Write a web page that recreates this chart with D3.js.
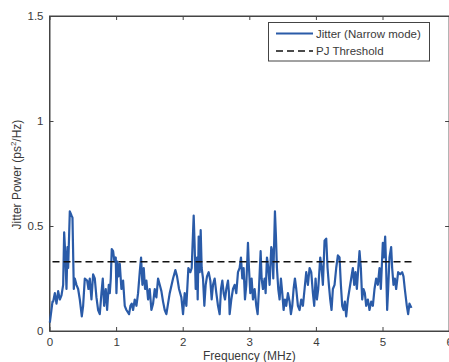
<!DOCTYPE html>
<html>
<head>
<meta charset="utf-8">
<script src="https://cdn.jsdelivr.net/npm/d3@7"></script>
<style>
  body { margin: 0; background: #fff; }
  text { font-family: "Liberation Sans", Arial, sans-serif; fill: #3a3a3a; }
</style>
</head>
<body>
<div id="chart"></div>
<script>
// frequency (MHz) and jitter power (ps^2/Hz)
const freq = [0.005, 0.045, 0.055, 0.08, 0.105, 0.13, 0.155, 0.18, 0.205, 0.22, 0.235, 0.255, 0.27, 0.28, 0.305, 0.33, 0.345, 0.365, 0.38,
  0.405, 0.43, 0.455, 0.485, 0.505, 0.53, 0.565, 0.585, 0.605, 0.63, 0.655, 0.68, 0.705, 0.73, 0.755, 0.78, 0.80, 0.82, 0.845, 0.865,
  0.89, 0.905, 0.92, 0.935, 0.955, 0.975, 0.995, 1.005, 1.02, 1.035, 1.055, 1.08, 1.105, 1.13, 1.155, 1.195, 1.215, 1.235, 1.255,
  1.28, 1.305, 1.33, 1.355, 1.375, 1.395, 1.415, 1.435, 1.455, 1.48, 1.505, 1.53, 1.555, 1.58, 1.605, 1.63, 1.655, 1.68, 1.705,
  1.73, 1.755, 1.78, 1.805, 1.855, 1.89, 1.915, 1.945, 1.98, 2.005, 2.03, 2.055, 2.085, 2.115, 2.135, 2.165, 2.18, 2.195, 2.215,
  2.225, 2.24, 2.255, 2.27, 2.285, 2.305, 2.325, 2.345, 2.365, 2.39, 2.415, 2.435, 2.455, 2.48, 2.505, 2.53, 2.555, 2.575, 2.595,
  2.615, 2.635, 2.655, 2.68, 2.695, 2.705, 2.73, 2.755, 2.78, 2.805, 2.83, 2.855, 2.875, 2.895, 2.915, 2.935, 2.955, 2.98, 2.995,
  3.015, 3.035, 3.055, 3.08, 3.105, 3.125, 3.145, 3.17, 3.185, 3.205, 3.23, 3.245, 3.265, 3.285, 3.305, 3.33, 3.345, 3.36, 3.385,
  3.40, 3.415, 3.435, 3.455, 3.475, 3.495, 3.515, 3.535, 3.555, 3.58, 3.605, 3.625, 3.645, 3.665, 3.685, 3.705, 3.73, 3.755, 3.78,
  3.805, 3.83, 3.855, 3.88, 3.905, 3.93, 3.955, 3.975, 3.995, 4.015, 4.035, 4.065, 4.085, 4.105, 4.13, 4.155, 4.175, 4.195, 4.215,
  4.235, 4.255, 4.28, 4.305, 4.33, 4.355, 4.375, 4.395, 4.415, 4.435, 4.455, 4.48, 4.505, 4.53, 4.555, 4.575, 4.595, 4.615, 4.655,
  4.675, 4.695, 4.715, 4.735, 4.755, 4.78, 4.805, 4.83, 4.855, 4.88, 4.905, 4.93, 4.955, 4.975, 5.005, 5.02, 5.04, 5.055, 5.07,
  5.085, 5.105, 5.13, 5.145, 5.165, 5.185, 5.205, 5.235, 5.265, 5.295, 5.315, 5.335, 5.365, 5.385, 5.405, 5.435];

const power = [0.04, 0.14, 0.14, 0.18, 0.13, 0.19, 0.15, 0.17, 0.22, 0.47, 0.38, 0.20, 0.40, 0.30, 0.57, 0.55, 0.54, 0.20, 0.25,
  0.22, 0.20, 0.15, 0.07, 0.12, 0.25, 0.24, 0.20, 0.25, 0.15, 0.27, 0.25, 0.16, 0.10, 0.08, 0.18, 0.25, 0.12, 0.20, 0.10,
  0.22, 0.18, 0.25, 0.39, 0.38, 0.33, 0.35, 0.18, 0.33, 0.26, 0.32, 0.20, 0.24, 0.12, 0.10, 0.08, 0.12, 0.13, 0.10,
  0.15, 0.12, 0.18, 0.28, 0.35, 0.22, 0.30, 0.20, 0.24, 0.15, 0.20, 0.10, 0.13, 0.20, 0.16, 0.25, 0.22, 0.19, 0.14,
  0.10, 0.08, 0.13, 0.18, 0.25, 0.29, 0.26, 0.20, 0.16, 0.08, 0.18, 0.12, 0.30, 0.28, 0.30, 0.55, 0.40, 0.20, 0.35,
  0.15, 0.45, 0.28, 0.48, 0.30, 0.25, 0.12, 0.22, 0.26, 0.28, 0.24, 0.15, 0.22, 0.25, 0.18, 0.12, 0.08, 0.20, 0.24,
  0.18, 0.15, 0.20, 0.24, 0.18, 0.08, 0.15, 0.20, 0.22, 0.18, 0.28, 0.30, 0.35, 0.25, 0.30, 0.15, 0.22, 0.42, 0.30,
  0.18, 0.25, 0.15, 0.20, 0.12, 0.08, 0.20, 0.38, 0.25, 0.20, 0.25, 0.18, 0.35, 0.30, 0.22, 0.40, 0.38, 0.25, 0.57,
  0.45, 0.30, 0.20, 0.15, 0.25, 0.18, 0.10, 0.15, 0.12, 0.18, 0.14, 0.08, 0.12, 0.20, 0.25, 0.20, 0.12, 0.10, 0.15,
  0.12, 0.20, 0.28, 0.22, 0.30, 0.28, 0.18, 0.12, 0.25, 0.15, 0.20, 0.35, 0.30, 0.22, 0.43, 0.44, 0.30, 0.22, 0.15,
  0.10, 0.20, 0.22, 0.30, 0.36, 0.35, 0.22, 0.12, 0.10, 0.14, 0.07, 0.15, 0.20, 0.25, 0.30, 0.22, 0.28, 0.20, 0.38,
  0.30, 0.15, 0.20, 0.18, 0.12, 0.15, 0.10, 0.14, 0.12, 0.20, 0.25, 0.22, 0.30, 0.20, 0.42, 0.35, 0.45, 0.30, 0.10,
  0.20, 0.35, 0.40, 0.30, 0.22, 0.25, 0.20, 0.28, 0.27, 0.28, 0.26, 0.20, 0.12, 0.08, 0.13, 0.11];

const threshold = 0.33;
const xTicks = [0, 1, 2, 3, 4, 5, 6];
const yTicks = [0, 0.5, 1, 1.5];
const legendLabels = ["Jitter (Narrow mode)", "PJ Threshold"];

const dims = { width: 449, height: 362 };
const margins = { left: 49.5, top: 16, right: 0, bottom: 31 };

const svg = d3.select("#chart").append("svg")
  .attr("width", dims.width)
  .attr("height", dims.height);

const xScale = d3.scaleLinear().domain([0, 6]).range([margins.left, 449.1]);
const yScale = d3.scaleLinear().domain([0, 1.5]).range([331, margins.top]);

const axisColor = "#444";

// bottom / left axes, ticks pointing in
const xAxis = svg.append("g")
  .attr("transform", `translate(0, ${yScale(0)})`)
  .call(d3.axisBottom(xScale).tickValues(xTicks).tickFormat(d3.format("d")).tickSizeInner(-4).tickSizeOuter(0).tickPadding(6));
const yAxis = svg.append("g")
  .attr("transform", `translate(${xScale(0)}, 0)`)
  .call(d3.axisLeft(yScale).tickValues(yTicks).tickFormat(d => d).tickSizeInner(-4).tickSizeOuter(0).tickPadding(6));
// top / right mirror ticks
svg.append("g")
  .attr("transform", `translate(0, ${yScale(1.5)})`)
  .call(d3.axisTop(xScale).tickValues(xTicks).tickFormat("").tickSizeInner(-4).tickSizeOuter(0));
svg.append("g")
  .attr("transform", `translate(${xScale(6)}, 0)`)
  .call(d3.axisRight(yScale).tickValues(yTicks).tickFormat("").tickSizeInner(-4).tickSizeOuter(0));

svg.selectAll(".domain, .tick line").attr("stroke", axisColor);
svg.selectAll(".tick text").attr("font-size", 11.5).attr("fill", "#3a3a3a")
  .style("font-family", "'Liberation Sans', Arial, sans-serif");
xAxis.selectAll(".tick text").attr("dy", "0.75em");

// frame
svg.append("rect")
  .attr("x", xScale(0)).attr("y", yScale(1.5))
  .attr("width", xScale(6) - xScale(0)).attr("height", yScale(0) - yScale(1.5))
  .attr("fill", "none").attr("stroke", axisColor).attr("stroke-width", 1);

const series = freq.map((f, i) => ({ f: f, p: power[i] }));

const line = d3.line().x(d => xScale(d.f)).y(d => yScale(d.p));

svg.append("path")
  .datum(series)
  .attr("d", line)
  .attr("fill", "none")
  .attr("stroke", "#2a5ba8")
  .attr("stroke-width", 2.2)
  .attr("stroke-linejoin", "round");

svg.append("line")
  .attr("x1", xScale(0.045)).attr("x2", xScale(5.45))
  .attr("y1", yScale(threshold)).attr("y2", yScale(threshold))
  .attr("stroke", "#111").attr("stroke-width", 1.6)
  .attr("stroke-dasharray", "7,4");

// legend
const legend = svg.append("g").attr("transform", "translate(268.5, 22.5)");
legend.append("rect")
  .attr("width", 161).attr("height", 38.5)
  .attr("fill", "#fff").attr("stroke", axisColor).attr("stroke-width", 1);
legend.append("line")
  .attr("x1", 7.5).attr("x2", 44.5).attr("y1", 11).attr("y2", 11)
  .attr("stroke", "#2a5ba8").attr("stroke-width", 2);
legend.append("line")
  .attr("x1", 7.5).attr("x2", 44.5).attr("y1", 28.5).attr("y2", 28.5)
  .attr("stroke", "#111").attr("stroke-width", 1.6).attr("stroke-dasharray", "7,4");
legend.selectAll("text.lbl")
  .data(legendLabels)
  .join("text")
    .attr("class", "lbl")
    .attr("x", 47.5)
    .attr("y", (d, i) => 15 + i * 17.5)
    .attr("font-size", 11.5)
    .text(d => d);

// axis labels
svg.append("text")
  .attr("x", xScale(3))
  .attr("y", 360)
  .attr("text-anchor", "middle")
  .attr("font-size", 12)
  .text("Frequency (MHz)");

const yl = svg.append("text")
  .attr("text-anchor", "middle")
  .attr("font-size", 12)
  .attr("transform", `translate(21, ${yScale(0.745)}) rotate(-90)`);
yl.append("tspan").text("Jitter Power (ps");
yl.append("tspan").attr("font-size", 8).attr("dy", -5).text("2");
yl.append("tspan").attr("dy", 5).text("/Hz)");
</script>
</body>
</html>
